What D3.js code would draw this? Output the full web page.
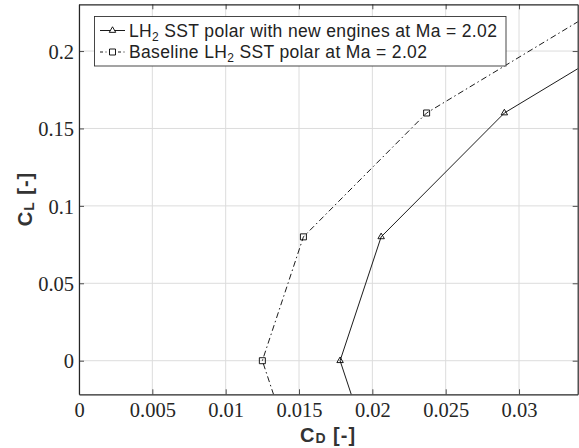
<!DOCTYPE html>
<html><head><meta charset="utf-8">
<script src="https://cdn.jsdelivr.net/npm/d3@7"></script>
<style>body{margin:0;background:#fff}svg{display:block}</style>
</head><body>
<svg id="c" width="579" height="448"></svg>
<script>
const xTicks = [0, 0.005, 0.01, 0.015, 0.02, 0.025, 0.03];
const xTickLabels = ["0", "0.005", "0.01", "0.015", "0.02", "0.025", "0.03"];
const yTicks = [0, 0.05, 0.1, 0.15, 0.2];
const yTickLabels = ["0", "0.05", "0.1", "0.15", "0.2"];
const newEnginesCD = [0.0206, 0.0178, 0.0206, 0.0290, 0.0430];
const newEnginesCL = [-0.08, 0, 0.08, 0.16, 0.24];
const baselineCD = [0.0153, 0.0125, 0.0153, 0.0237, 0.0377];
const baselineCL = [-0.08, 0, 0.08, 0.16, 0.24];
const seriesNames = ["LH\u2082 SST polar with new engines at Ma = 2.02", "Baseline LH\u2082 SST polar at Ma = 2.02"];

const svg = d3.select("#c");
const m = {l: 79, r: 1.3, t: 4.3, b: 53.7};
const W = 579, H = 448;
const x = d3.scaleLinear().domain([0, 0.034]).range([m.l, W - m.r]);
const y = d3.scaleLinear().domain([-0.0217, 0.2302]).range([H - m.b, m.t]);
const axisCol = "#262626";

// grid
svg.append("g").selectAll("line").data(xTicks).join("line")
  .attr("x1", d => x(d)).attr("x2", d => x(d)).attr("y1", y.range()[0]).attr("y2", y.range()[1])
  .attr("stroke", "#dcdcdc").attr("stroke-width", 1);
svg.append("g").selectAll("line").data(yTicks).join("line")
  .attr("y1", d => y(d)).attr("y2", d => y(d)).attr("x1", x.range()[0]).attr("x2", x.range()[1])
  .attr("stroke", "#dcdcdc").attr("stroke-width", 1);

svg.append("clipPath").attr("id", "clip").append("rect")
  .attr("x", x.range()[0]).attr("y", y.range()[1])
  .attr("width", x.range()[1] - x.range()[0]).attr("height", y.range()[0] - y.range()[1]);

const line = d3.line().x(d => x(d[0])).y(d => y(d[1]));
const newPts = newEnginesCD.map((d, i) => [d, newEnginesCL[i]]);
const basePts = baselineCD.map((d, i) => [d, baselineCL[i]]);
const plot = svg.append("g").attr("clip-path", "url(#clip)");
plot.append("path").attr("d", line(newPts)).attr("fill", "none").attr("stroke", "#000").attr("stroke-width", 0.9);
plot.append("path").attr("d", line(basePts)).attr("fill", "none").attr("stroke", "#000").attr("stroke-width", 0.9)
  .attr("stroke-dasharray", "6,3,1.5,3");

const tri = d3.symbol().type(d3.symbolTriangle).size(18);
const sq = d3.symbol().type(d3.symbolSquare).size(36);
plot.selectAll(".tri").data(newPts).join("path").attr("class", "tri")
  .attr("d", tri).attr("transform", d => `translate(${x(d[0])},${y(d[1])})`)
  .attr("fill", "none").attr("stroke", "#000").attr("stroke-width", 0.9);
plot.selectAll(".sq").data(basePts).join("path").attr("class", "sq")
  .attr("d", sq).attr("transform", d => `translate(${x(d[0])},${y(d[1])})`)
  .attr("fill", "none").attr("stroke", "#000").attr("stroke-width", 0.9);

// axes
const fmtX = (d, i) => xTickLabels[i];
const fmtY = (d, i) => yTickLabels[i];
const gx = svg.append("g").attr("transform", `translate(0,${y.range()[0]})`)
  .call(d3.axisBottom(x).tickValues(xTicks).tickFormat(fmtX).tickSizeInner(-5).tickSizeOuter(0).tickPadding(8));
const gy = svg.append("g").attr("transform", `translate(${x.range()[0]},0)`)
  .call(d3.axisLeft(y).tickValues(yTicks).tickFormat(fmtY).tickSizeInner(-5).tickSizeOuter(0).tickPadding(5));
const gxt = svg.append("g").attr("transform", `translate(0,${y.range()[1]})`)
  .call(d3.axisTop(x).tickValues(xTicks).tickFormat("").tickSizeInner(-5).tickSizeOuter(0));
const gyr = svg.append("g").attr("transform", `translate(${x.range()[1]},0)`)
  .call(d3.axisRight(y).tickValues(yTicks).tickFormat("").tickSizeInner(-5).tickSizeOuter(0));
[gx, gy, gxt, gyr].forEach(g => {
  g.selectAll("path.domain").attr("stroke", axisCol).attr("stroke-width", 1.2);
  g.selectAll(".tick line").attr("stroke", axisCol).attr("stroke-width", 0.8);
  g.selectAll(".tick text").attr("fill", axisCol).style("font-family", "'Liberation Serif', serif").style("font-size", "20.5px");
});
gy.selectAll(".tick text").attr("dy", "0.35em");

// axis labels
const lab = svg.append("text").attr("x", 328).attr("y", 441.5).attr("text-anchor", "middle")
  .attr("fill", "#333").style("font-family", "'Liberation Sans', Arial, sans-serif").style("font-size", "20px")
  .style("font-weight", "bold").style("letter-spacing", "1px");
lab.append("tspan").text("C");
lab.append("tspan").text("D").style("font-size", "14px").attr("dy", 1.5);
lab.append("tspan").text(" [-]").attr("dy", -1.5);
const ylab = svg.append("text").attr("transform", `translate(32,199) rotate(-90)`).attr("text-anchor", "middle")
  .attr("fill", "#333").style("font-family", "'Liberation Sans', Arial, sans-serif").style("font-size", "20px")
  .style("font-weight", "bold").style("letter-spacing", "1px");
ylab.append("tspan").text("C");
ylab.append("tspan").text("L").style("font-size", "14px").attr("dy", 1.5);
ylab.append("tspan").text(" [-]").attr("dy", -1.5);

// legend
const lg = svg.append("g");
lg.append("rect").attr("x", 94.5).attr("y", 16.5).attr("width", 411.5).attr("height", 49.5)
  .attr("fill", "#fff").attr("stroke", "#333").attr("stroke-width", 0.9);
const rows = [{y: 30.5, dash: null, sym: tri}, {y: 52, dash: "3,2.5,1,2.5", sym: sq}];
rows.forEach((r, i) => {
  lg.append("line").attr("x1", 100).attr("x2", 125).attr("y1", r.y).attr("y2", r.y)
    .attr("stroke", "#000").attr("stroke-width", 0.9).attr("stroke-dasharray", r.dash);
  lg.append("path").attr("d", r.sym).attr("transform", `translate(112.5,${r.y})`)
    .attr("fill", "#fff").attr("stroke", "#000").attr("stroke-width", 0.9);
  const t = lg.append("text").attr("x", 129).attr("y", r.y + 6)
    .attr("fill", "#222").style("font-family", "'Liberation Sans', Arial, sans-serif").style("font-size", "17.5px")
    .style("letter-spacing", "0.35px");
  const parts = seriesNames[i].split("\u2082");
  t.append("tspan").text(parts[0]);
  t.append("tspan").text("2").style("font-size", "12px").attr("dy", 4);
  t.append("tspan").text(parts[1]).attr("dy", -4);
});
</script>
</body></html>
